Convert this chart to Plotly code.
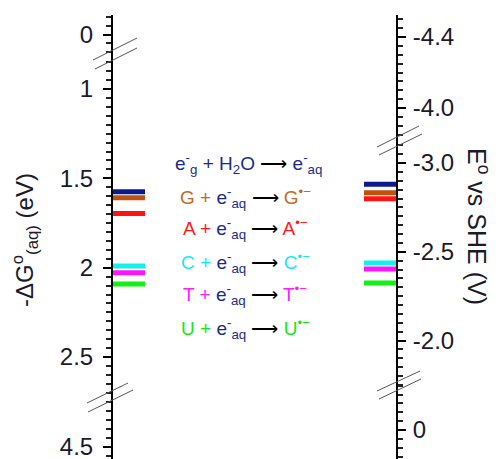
import numpy as np
import plotly.graph_objects as go

# ---------------- data ----------------
species = ["e_aq", "G", "A", "C", "T", "U"]
level_colors = ["#0b1a8c", "#c0520f", "#ff1414", "#14f0f0", "#ff14ff", "#14f014"]
text_colors = ["#1b2a8a", "#c06a2a", "#ff1a1a", "#14e8f0", "#ff1aff", "#14e814"]
dG_aq = [1.575, 1.608, 1.696, 1.990, 2.028, 2.091]        # -dG(aq) in eV (left axis)
E_she = [-2.880, -2.833, -2.799, -2.437, -2.403, -2.324]  # E vs SHE in V (right axis)

left_tickvals = [[0], [1, 1.5, 2, 2.5], [4.5]]
left_ticktext = [["0"], ["1", "1.5", "2", "2.5"], ["4.5"]]
right_tickvals = [[-4.4, -4.0], [-3.0, -2.5, -2.0], [0]]
right_ticktext = [["-4.4", "-4.0"], ["-3.0", "-2.5", "-2.0"], ["0"]]

# ---------------- layout constants (pixels) ----------------
W, H = 499, 459
LX, RX = 112, 397          # axis positions
BAR_W = 33
L_SCALE, R_SCALE = 178.7, 177.5
# segments: (top_px, bottom_px, reference value, reference px)
left_segs = [(15, 55, 0.0, 34.5), (55, 397, 1.0, 89.0), (397, 459, 4.5, 446.7)]
right_segs = [(15, 141, -4.4, 37.0), (141, 385, -3.0, 163.0), (385, 459, 0.0, 430.0)]

FONT = "Liberation Sans, Arial, sans-serif"
NAVY = "#1b2a8a"


def px2py(p):
    return 1 - p / H


def seg_axis(seg, scale, side, pos, majors, labels):
    top, bot, rv, rp = seg
    vb = rv + (bot - rp) / scale
    vt = rv + (top - rp) / scale
    lo, hi = min(vb, vt), max(vb, vt)
    mins = [round(v, 3) for v in np.arange(np.ceil(lo / 0.05) * 0.05, hi, 0.05)]
    mins = [v for v in mins if all(abs(v - m) > 1e-6 for m in majors)]
    return dict(
        domain=[px2py(bot), px2py(top)], range=[vb, vt], anchor="free",
        position=pos / W, side=side, showgrid=False, zeroline=False,
        showline=True, linecolor="black", linewidth=2,
        ticks="outside", ticklen=8, tickwidth=1.6, tickcolor="black",
        tickmode="array", tickvals=majors, ticktext=labels,
        ticklabelstandoff=5 if side == "left" else 2,
        ticklabeloverflow="allow",
        tickfont=dict(family=FONT, size=24, color="#1a1a2a"),
        minor=dict(ticks="outside", ticklen=5, tickwidth=1.5, tickcolor="#222222",
                   tickmode="array", tickvals=mins, showgrid=False),
        fixedrange=True,
    )


fig = go.Figure()
layout = dict(
    width=W, height=H, margin=dict(l=0, r=0, t=0, b=0),
    paper_bgcolor="white", plot_bgcolor="rgba(0,0,0,0)", showlegend=False,
    xaxis=dict(domain=[LX / W, (LX + BAR_W) / W], range=[0, 1], visible=False, fixedrange=True),
    xaxis2=dict(domain=[(RX - BAR_W) / W, RX / W], range=[0, 1], visible=False, fixedrange=True),
)
for i, seg in enumerate(left_segs):
    name = "yaxis" if i == 0 else f"yaxis{i + 1}"
    layout[name] = seg_axis(seg, L_SCALE, "left", LX, left_tickvals[i], left_ticktext[i])
for i, seg in enumerate(right_segs):
    layout[f"yaxis{i + 4}"] = seg_axis(seg, R_SCALE, "right", RX, right_tickvals[i], right_ticktext[i])

# dummy traces so each axis segment is rendered
for ya, xa in [("y", "x"), ("y3", "x"), ("y4", "x2"), ("y6", "x2")]:
    fig.add_trace(go.Scatter(x=[None], y=[None], xaxis=xa, yaxis=ya, hoverinfo="skip"))

# energy levels
for name, c, v in zip(species, level_colors, dG_aq):
    fig.add_trace(go.Scatter(x=[0, 1], y=[v, v], mode="lines", line=dict(color=c, width=5),
                             xaxis="x", yaxis="y2", name=name))
for name, c, v in zip(species, level_colors, E_she):
    fig.add_trace(go.Scatter(x=[0, 1], y=[v, v], mode="lines", line=dict(color=c, width=5),
                             xaxis="x2", yaxis="y5", name=name))

# axis-break marks
breaks = [((93, 60), (137, 38)), ((95, 69), (137, 48)),
          ((87, 403), (128, 383)), ((88, 412), (133, 390)),
          ((377, 147), (419, 126)), ((379, 155), (422, 134)),
          ((377, 391), (420, 371)), ((379, 399), (421, 379))]
shapes = []
for (x0, y0), (x1, y1) in breaks:
    shapes.append(dict(type="line", xref="paper", yref="paper",
                       x0=x0 / W, y0=px2py(y0), x1=x1 / W, y1=px2py(y1),
                       line=dict(color="#555555", width=1)))
layout["shapes"] = shapes

ARROW = "<span style='color:black'>⟶</span>"
EAQ = f"<span style='color:{NAVY}'>e<sup>-</sup><sub>aq</sub></span>"
annots = []
annots.append(dict(text=f"<span style='color:{NAVY}'>e<sup>-</sup><sub>g</sub> + H<sub>2</sub>O</span> {ARROW} {EAQ}",
                   x=248, y=163))
ys = [197, 229, 262, 294, 328]
for sp, c, y in zip(species[1:], text_colors[1:], ys):
    annots.append(dict(text=f"<span style='color:{c}'>{sp} + </span>{EAQ} {ARROW} <span style='color:{c}'>{sp}<sup>•−</sup></span>",
                       x=245, y=y))
ann = []
for a in annots:
    ann.append(dict(text=a["text"], x=a["x"] / W, y=px2py(a["y"]), xref="paper", yref="paper",
                    showarrow=False, xanchor="center", yanchor="middle",
                    font=dict(family=FONT, size=19, color=NAVY)))
ann.append(dict(text="-ΔG<sup>o</sup><sub>(aq)</sub> (eV)", textangle=-90, x=25 / W, y=px2py(240),
                xref="paper", yref="paper", showarrow=False, xanchor="center", yanchor="middle",
                font=dict(family=FONT, size=24, color="#1a1a2a")))
ann.append(dict(text="E<sup>o</sup> vs SHE (V)", textangle=90, x=478 / W, y=px2py(226),
                xref="paper", yref="paper", showarrow=False, xanchor="center", yanchor="middle",
                font=dict(family=FONT, size=25, color="#1a1a2a")))
layout["annotations"] = ann

fig.update_layout(**layout)
fig.write_html("out.html")
